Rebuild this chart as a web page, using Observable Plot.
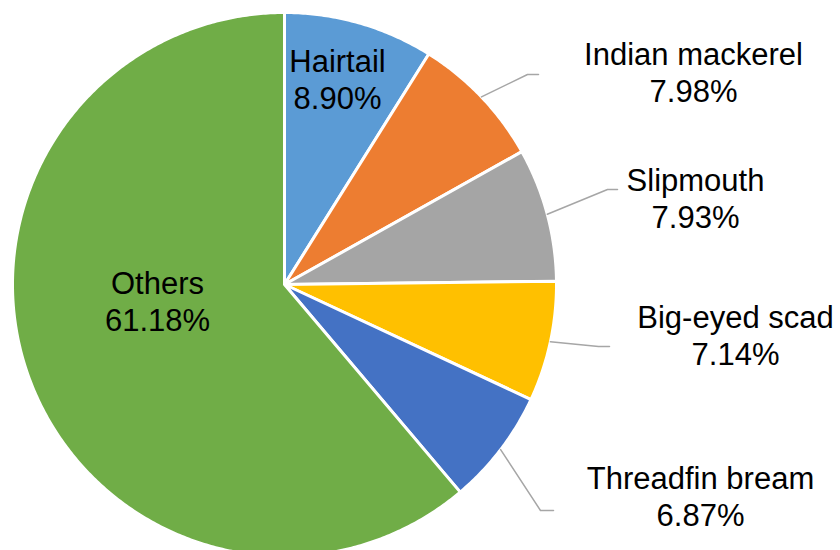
<!DOCTYPE html>
<html>
<head>
<meta charset="utf-8">
<script src="https://cdn.jsdelivr.net/npm/d3@7"></script>
<script src="https://cdn.jsdelivr.net/npm/@observablehq/plot@0.6"></script>
<style>
  html, body { margin: 0; padding: 0; background: #fff; }
  #chart svg { display: block; }
</style>
</head>
<body>
<div id="chart"></div>
<script>
// ---- data ----
const species = ["Hairtail", "Indian mackerel", "Slipmouth", "Big-eyed scad", "Threadfin bream", "Others"];
const shares = [8.90, 7.98, 7.93, 7.14, 6.87, 61.18];
const colors = ["#5B9BD5", "#ED7D31", "#A5A5A5", "#FFC000", "#4472C4", "#70AD47"];

// ---- layout (pixels) ----
const W = 840, H = 550;
const cx = 284, cy = 284, R = 272;
// label block centres
const labelPos = [
  [337, 78], [693, 71], [695, 197], [735, 334], [700, 495], [157, 300]
];
// leader line elbow and end points (null = no leader)
const leaders = [
  null,
  [[527, 74], [538, 74]],
  [[607, 189], [617, 189]],
  [[598, 346], [609, 346]],
  [[540, 510], [553, 510]],
  null
];

const table = species.map((name, i) => ({name, value: shares[i], color: colors[i]}));
const arcs = d3.pie().sort(null).value(d => d.value)(table);

const pt = (a, r) => [cx + r * Math.sin(a), cy - r * Math.cos(a)];

const slicePts = [];
arcs.forEach(a => {
  slicePts.push({name: a.data.name, p: [cx, cy]});
  const n = Math.max(4, Math.ceil((a.endAngle - a.startAngle) / (Math.PI / 360)));
  for (let k = 0; k <= n; k++) {
    const ang = a.startAngle + (a.endAngle - a.startAngle) * k / n;
    slicePts.push({name: a.data.name, p: pt(ang, R)});
  }
});

const leaderPts = [];
arcs.forEach((a, i) => {
  if (!leaders[i]) return;
  const mid = (a.startAngle + a.endAngle) / 2;
  leaderPts.push({name: a.data.name, p: pt(mid, R)});
  leaders[i].forEach(q => leaderPts.push({name: a.data.name, p: q}));
});

const labels = table.map((d, i) => ({
  text: d.name + "\n" + d.value.toFixed(2) + "%",
  x: labelPos[i][0], y: labelPos[i][1]
}));

const chart = Plot.plot({
  width: W, height: H,
  margin: 0,
  x: {domain: [0, W], range: [0, W], axis: null},
  y: {domain: [0, H], range: [0, H], axis: null},
  color: {domain: species, range: colors},
  style: {background: "#fff"},
  marks: [
    Plot.line(slicePts, {
      x: d => d.p[0], y: d => d.p[1], z: "name", fill: "name",
      stroke: "#fff", strokeWidth: 3, curve: "linear-closed", strokeLinejoin: "round"
    }),
    Plot.line(leaderPts, {
      x: d => d.p[0], y: d => d.p[1], z: "name",
      stroke: "#A6A6A6", strokeWidth: 1.5
    }),
    Plot.text(labels, {
      x: "x", y: "y", text: "text",
      fontSize: 31, fontFamily: "Liberation Sans, Arial, sans-serif",
      fill: "#000", textAnchor: "middle", lineAnchor: "middle", lineHeight: 1.2
    })
  ]
});
document.getElementById("chart").appendChild(chart);
</script>
</body>
</html>
